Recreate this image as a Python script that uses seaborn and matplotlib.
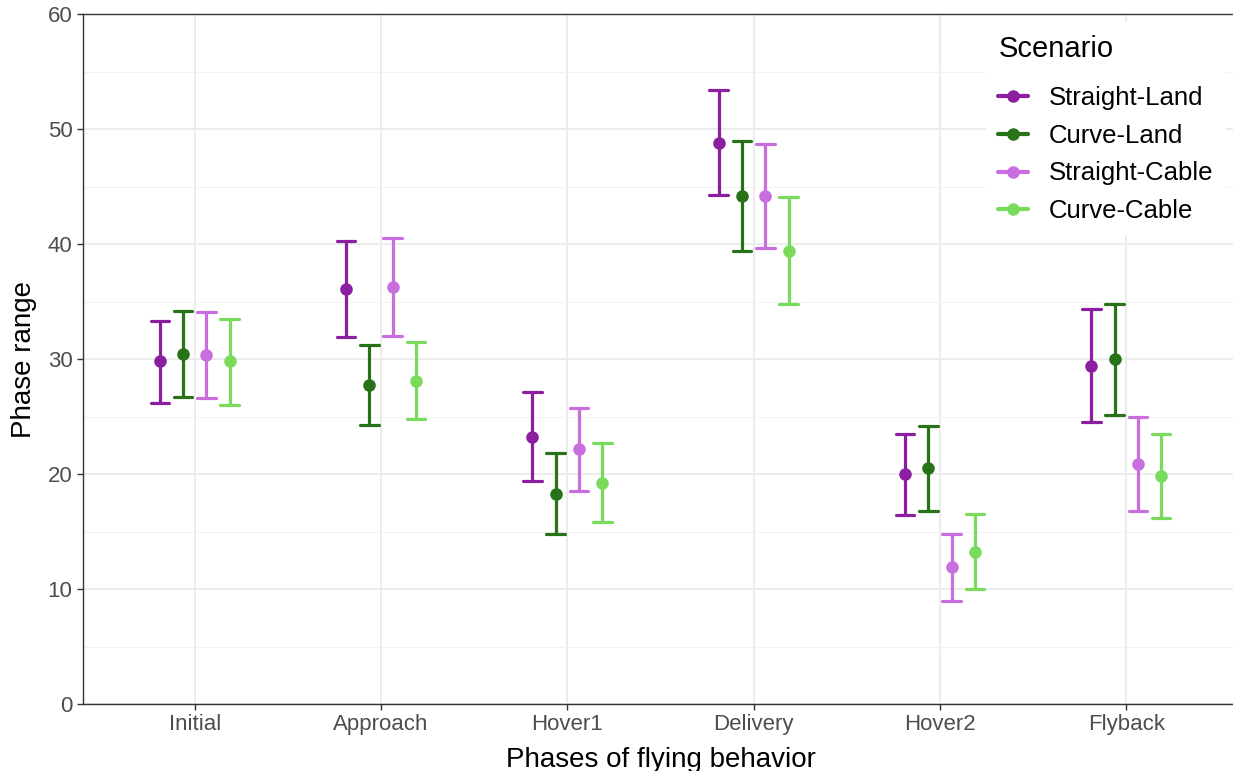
import numpy as np
import pandas as pd
import matplotlib
matplotlib.use("Agg")
import matplotlib.pyplot as plt
from matplotlib.lines import Line2D
from matplotlib.ticker import MultipleLocator
import seaborn as sns

phases = ["Initial", "Approach", "Hover1", "Delivery", "Hover2", "Flyback"]
scenarios = ["Straight-Land", "Curve-Land", "Straight-Cable", "Curve-Cable"]

# means, lower and upper bounds per scenario (in phase order)
sl_mean = [29.8, 36.1, 23.2, 48.8, 20.0, 29.4]
sl_low = [26.2, 31.9, 19.4, 44.3, 16.4, 24.5]
sl_high = [33.3, 40.3, 27.1, 53.4, 23.5, 34.35]

cl_mean = [30.4, 27.7, 18.3, 44.2, 20.5, 30.0]
cl_low = [26.7, 24.3, 14.8, 39.4, 16.75, 25.1]
cl_high = [34.2, 31.2, 21.8, 49.0, 24.2, 34.8]

sc_mean = [30.35, 36.3, 22.2, 44.2, 11.9, 20.9]
sc_low = [26.6, 32.0, 18.5, 39.65, 9.0, 16.8]
sc_high = [34.1, 40.5, 25.7, 48.7, 14.8, 25.0]

cc_mean = [29.8, 28.1, 19.2, 39.4, 13.25, 19.8]
cc_low = [26.0, 24.8, 15.8, 34.8, 10.0, 16.2]
cc_high = [33.5, 31.5, 22.7, 44.1, 16.5, 23.5]

colors = ["#8B1FA0", "#287217", "#C86EDE", "#79DB5C"]

series = {
    "Straight-Land": (sl_low, sl_mean, sl_high),
    "Curve-Land": (cl_low, cl_mean, cl_high),
    "Straight-Cable": (sc_low, sc_mean, sc_high),
    "Curve-Cable": (cc_low, cc_mean, cc_high),
}

rows = []
for scen, (lo, me, hi) in series.items():
    for i, ph in enumerate(phases):
        for v in (lo[i], me[i], hi[i]):
            rows.append({"Phase": ph, "Scenario": scen, "value": v})
df = pd.DataFrame(rows)

sns.set_theme(style="white")
plt.rcParams["font.family"] = ["Liberation Sans", "DejaVu Sans"]

fig = plt.figure(figsize=(12.33, 7.71), dpi=100)
# panel extends slightly past the right edge of the image (cropped, as in the reference)
ax = fig.add_axes([83 / 1233, 67 / 771, (1238 - 83) / 1233, (704 - 14) / 771])

sns.pointplot(
    data=df, x="Phase", y="value", hue="Scenario",
    order=phases, hue_order=scenarios, palette=colors,
    estimator=np.median, errorbar=lambda x: (np.min(x), np.max(x)),
    dodge=0.375, linestyle="none", markers="o", markersize=7,
    capsize=0.1, err_kws={"linewidth": 2.3}, legend=False, ax=ax,
)

ax.set_xlim(-0.6, 5.6)
ax.set_ylim(0, 60)
ax.yaxis.set_major_locator(MultipleLocator(10))
ax.yaxis.set_minor_locator(MultipleLocator(5))
ax.grid(True, which="major", color="#EBEBEB", linewidth=1.3)
ax.grid(True, which="minor", axis="y", color="#F2F2F2", linewidth=0.8)
ax.set_axisbelow(True)

for s in ax.spines.values():
    s.set_visible(True)
    s.set_color("#333333")
    s.set_linewidth(1.0)

ax.tick_params(axis="both", which="major", length=4, width=1, color="#333333",
               labelsize=16, labelcolor="#4D4D4D", direction="out",
               bottom=True, left=True)
ax.tick_params(axis="y", which="minor", length=0)

ax.set_xlabel("Phases of flying behavior", fontsize=20, color="black", labelpad=8)
ax.set_ylabel("Phase range", fontsize=20, color="black", labelpad=8)

handles = [Line2D([0], [0], color=c, linewidth=3, marker="o", markersize=8)
           for c in colors]
leg = ax.legend(handles, scenarios, title="Scenario", loc="upper right",
                bbox_to_anchor=(0.995, 0.997), frameon=True, facecolor="white",
                edgecolor="none", framealpha=1, fancybox=False,
                fontsize=18.5, title_fontsize=21, handlelength=1.15,
                handletextpad=0.8, labelspacing=0.53, borderpad=0.5,
                borderaxespad=0.25, alignment="left", labelcolor="black")
leg.get_title().set_color("black")
leg._legend_box.sep = 16.5

fig.savefig("out.png", dpi=100)
